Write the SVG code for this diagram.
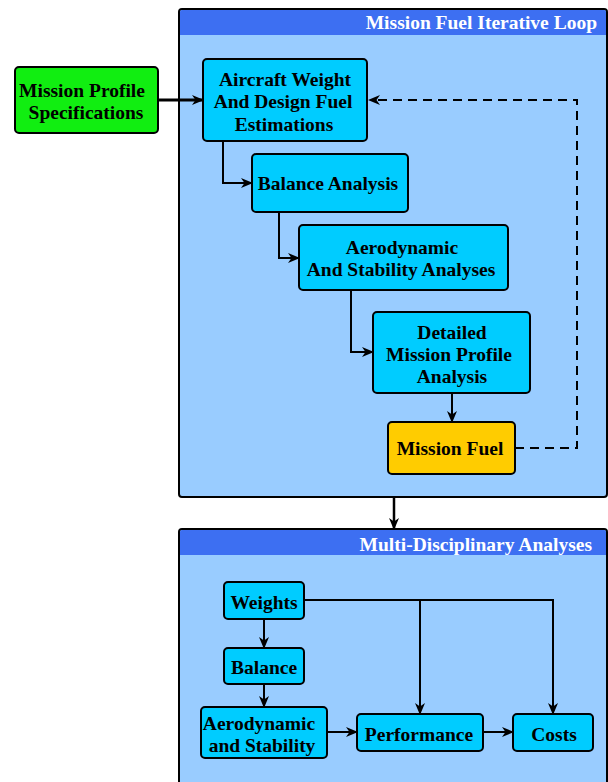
<svg xmlns="http://www.w3.org/2000/svg" width="608" height="782" viewBox="0 0 608 782">
<defs>
<marker id="arr" viewBox="0 0 12 12" refX="11" refY="6" markerWidth="12" markerHeight="12" markerUnits="userSpaceOnUse" orient="auto">
<path d="M0,1 L12,6 L0,11 L3.5,6 Z" fill="#000"/>
</marker>
</defs>
<style>
.cont{fill:#99ccff;stroke:#000;stroke-width:2}
.hdr{fill:#3d6ff2}
.htxt{font-family:"Liberation Serif",serif;font-weight:bold;font-size:19.5px;fill:#fff;text-anchor:end}
.node{fill:#00ccff;stroke:#000;stroke-width:2}
.t{font-family:"Liberation Serif",serif;font-weight:bold;font-size:19.5px;fill:#000;text-anchor:middle}
.c{fill:none;stroke:#000;stroke-width:2;marker-end:url(#arr)}
.d{fill:none;stroke:#000;stroke-width:2;stroke-dasharray:9,6}
</style>
<g id="loop">
<rect class="cont" x="179" y="9" width="428" height="488" rx="3"/>
<path class="hdr" d="M180,35 V12 Q180,10 182,10 H604 Q606,10 606,12 V35 Z"/>
<text class="htxt" x="597" y="29">Mission Fuel Iterative Loop</text>
</g>
<g id="mda">
<rect class="cont" x="179" y="529" width="428" height="260" rx="3"/>
<path class="hdr" d="M180,555 V532 Q180,530 182,530 H604 Q606,530 606,532 V555 Z"/>
<text class="htxt" x="592" y="551">Multi-Disciplinary Analyses</text>
</g>
<g id="connectors">
<path class="c" d="M158,100 H203" style="stroke-width:3"/>
<path class="c" d="M223,141 V183 H252"/>
<path class="c" d="M279,212 V258 H299"/>
<path class="c" d="M351,290 V352 H373"/>
<path class="c" d="M452,393 V422"/>
<path class="d" d="M515,448 H577 V100 H374"/>
<path d="M368,100 L380,95 L376.5,100 L380,105 Z" fill="#000"/>
<path class="c" d="M394,497 V529" style="stroke-width:2.5"/>
<path class="c" d="M264,619 V648"/>
<path class="c" d="M264,684 V707"/>
<path class="c" d="M327,732 H357"/>
<path class="c" d="M483,732 H513"/>
<path class="c" d="M304,600 H553 V714"/>
<path class="c" d="M420,600 V714"/>
</g>
<g id="mps">
<rect x="15" y="67" width="143" height="66" rx="4" fill="#11ee11" stroke="#000" stroke-width="2"/>
<text class="t" x="82" y="97">Mission Profile</text>
<text class="t" x="86" y="119">Specifications</text>
</g>
<g id="acw">
<rect class="node" x="203" y="59" width="164" height="82" rx="4"/>
<text class="t" x="285" y="86">Aircraft Weight</text>
<text class="t" x="283" y="108">And Design Fuel</text>
<text class="t" x="284" y="131">Estimations</text>
</g>
<g id="bal">
<rect class="node" x="252" y="154" width="156" height="58" rx="4"/>
<text class="t" x="328" y="190">Balance Analysis</text>
</g>
<g id="aero">
<rect class="node" x="299" y="225" width="209" height="65" rx="4"/>
<text class="t" x="402" y="254">Aerodynamic</text>
<text class="t" x="401" y="276">And Stability Analyses</text>
</g>
<g id="dmpa">
<rect class="node" x="373" y="312" width="157" height="81" rx="4"/>
<text class="t" x="452" y="339">Detailed</text>
<text class="t" x="449" y="361">Mission Profile</text>
<text class="t" x="452" y="383">Analysis</text>
</g>
<g id="mf">
<rect x="388" y="422" width="127" height="52" rx="4" fill="#ffcc00" stroke="#000" stroke-width="2"/>
<text class="t" x="450" y="455">Mission Fuel</text>
</g>
<g id="weights">
<rect class="node" x="224" y="582" width="80" height="37" rx="4"/>
<text class="t" x="264" y="609">Weights</text>
</g>
<g id="balance">
<rect class="node" x="224" y="648" width="80" height="36" rx="4"/>
<text class="t" x="264" y="674">Balance</text>
</g>
<g id="aerostab">
<rect class="node" x="201" y="707" width="126" height="51" rx="4"/>
<text class="t" x="259" y="730">Aerodynamic</text>
<text class="t" x="262" y="752">and Stability</text>
</g>
<g id="perf">
<rect class="node" x="357" y="714" width="126" height="37" rx="4"/>
<text class="t" x="419" y="741">Performance</text>
</g>
<g id="costs">
<rect class="node" x="513" y="714" width="80" height="37" rx="4"/>
<text class="t" x="554" y="741">Costs</text>
</g>
</svg>
